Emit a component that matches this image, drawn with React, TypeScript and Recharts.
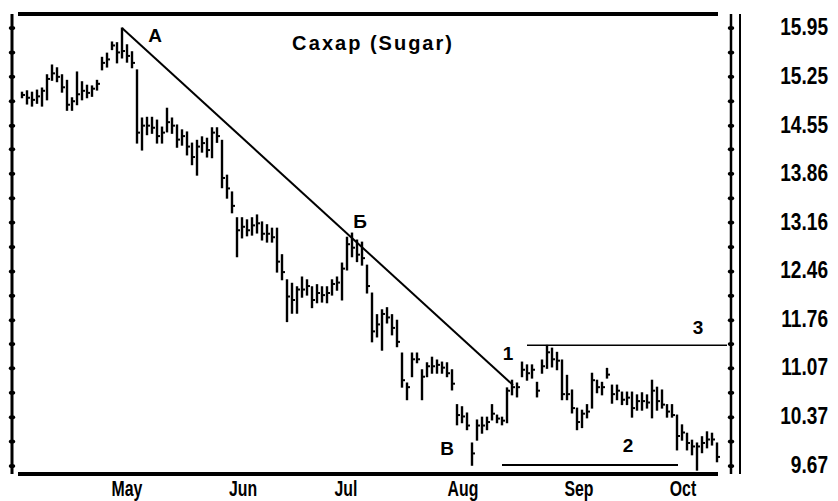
import React from 'react';
import { ComposedChart, Bar, XAxis, YAxis, ReferenceLine, ReferenceDot } from 'recharts';

// Daily bars (index 0 = early April), prices in US cents/lb
const highs = [
  15.03, 15.05, 15.03, 15.06, 15.09, 15.28, 15.42, 15.38, 15.28, 15.2,
  14.95, 15.32, 15.18, 15.13, 15.12, 15.2, 15.53, 15.59, 15.75, 15.74,
  15.95, 15.71, 15.61, 15.35, 14.66, 14.67, 14.67, 14.63, 14.53, 14.8,
  14.66, 14.56, 14.49, 14.46, 14.3, 14.34, 14.39, 14.37, 14.52, 14.52,
  14.34, 13.84, 13.6, 13.23, 13.23, 13.2, 13.23, 13.27, 13.17, 13.13,
  13.08, 13.08, 12.7, 12.34, 12.29, 12.24, 12.38, 12.34, 12.24, 12.27,
  12.24, 12.24, 12.34, 12.38, 12.58, 12.95, 13.01, 12.91, 12.88, 12.55,
  12.15, 11.84, 11.91, 11.94, 11.84, 11.76, 11.29, 10.86, 11.29, 11.29,
  11.05, 11.15, 11.23, 11.19, 11.16, 11.15, 11.05, 10.55, 10.52, 10.43,
  10.0, 10.33, 10.37, 10.37, 10.55, 10.4, 10.37, 10.79, 10.9, 10.86,
  11.16, 11.12, 11.12, 10.87, 11.19, 11.4, 11.36, 11.3, 11.19, 10.97,
  10.76, 10.5, 10.47, 10.55, 11.0, 10.9, 10.87, 11.07, 10.83, 10.83,
  10.73, 10.73, 10.73, 10.69, 10.72, 10.69, 10.9, 10.8, 10.76, 10.55,
  10.55, 10.4, 10.26, 10.14, 10.04, 10.0, 10.09, 10.16, 10.14, 10.0,
];
const lows = [
  14.95, 14.86, 14.83, 14.87, 14.83, 14.92, 15.2, 15.18, 15.03, 14.77,
  14.77, 14.85, 14.92, 14.95, 14.97, 15.06, 15.35, 15.39, 15.64, 15.45,
  15.52, 15.46, 15.38, 14.3, 14.2, 14.42, 14.44, 14.3, 14.3, 14.46,
  14.44, 14.24, 14.27, 14.13, 13.99, 13.84, 14.17, 14.1, 14.09, 14.31,
  13.66, 13.51, 13.3, 12.67, 12.94, 12.97, 12.98, 13.01, 12.91, 12.88,
  12.88, 12.45, 12.34, 11.74, 11.86, 11.86, 12.09, 12.12, 11.94, 12.01,
  12.02, 12.01, 12.12, 12.19, 12.05, 12.48, 12.67, 12.6, 12.55, 12.15,
  11.45, 11.52, 11.33, 11.72, 11.55, 11.38, 10.8, 10.62, 10.95, 11.15,
  10.62, 10.95, 11.0, 11.0, 11.0, 10.95, 10.76, 10.26, 10.29, 10.19,
  9.68, 10.04, 10.14, 10.19, 10.33, 10.29, 10.26, 10.29, 10.69, 10.66,
  10.95, 10.9, 10.93, 10.66, 11.0, 11.07, 11.09, 11.05, 10.62, 10.62,
  10.43, 10.19, 10.22, 10.36, 10.5, 10.72, 10.69, 10.93, 10.57, 10.62,
  10.55, 10.55, 10.37, 10.47, 10.47, 10.5, 10.36, 10.47, 10.5, 10.37,
  10.37, 9.9, 10.04, 9.9, 9.83, 9.61, 9.86, 9.93, 9.97, 9.73,
];
const closes = [
  14.99, 14.95, 14.92, 14.97, 15.05, 15.22, 15.3, 15.25, 15.1, 14.85,
  14.9, 15.0, 15.05, 15.02, 15.08, 15.15, 15.45, 15.5, 15.7, 15.6,
  15.62, 15.55, 15.45, 14.45, 14.55, 14.55, 14.52, 14.4, 14.45, 14.6,
  14.55, 14.35, 14.4, 14.25, 14.1, 14.25, 14.3, 14.2, 14.45, 14.4,
  13.8, 13.65, 13.4, 13.05, 13.1, 13.05, 13.12, 13.15, 13.0, 13.0,
  12.95, 12.6, 12.45, 12.1, 12.05, 12.2, 12.2, 12.25, 12.05, 12.15,
  12.12, 12.15, 12.28, 12.3, 12.5, 12.85, 12.8, 12.7, 12.65, 12.25,
  11.6, 11.7, 11.85, 11.8, 11.65, 11.45, 10.9, 10.8, 11.2, 11.2,
  10.95, 11.1, 11.1, 11.12, 11.08, 11.0, 10.85, 10.4, 10.38, 10.25,
  9.85, 10.25, 10.25, 10.3, 10.42, 10.35, 10.32, 10.75, 10.8, 10.8,
  11.05, 11.0, 11.05, 10.75, 11.1, 11.3, 11.2, 11.18, 10.7, 10.7,
  10.5, 10.3, 10.42, 10.45, 10.9, 10.8, 10.8, 10.98, 10.7, 10.75,
  10.62, 10.65, 10.5, 10.6, 10.6, 10.58, 10.75, 10.6, 10.55, 10.45,
  10.4, 10.1, 10.15, 10.0, 9.95, 9.95, 10.0, 10.05, 10.05, 9.8,
];

const monthTicks = [21, 44.2, 64.8, 88.2, 111.4, 132.2];
const monthLabels = ['May', 'Jun', 'Jul', 'Aug', 'Sep', 'Oct'];
const priceLabels = [15.95, 15.25, 14.55, 13.86, 13.16, 12.46, 11.76, 11.07, 10.37, 9.67];
const minorTicks = [
  15.95, 15.6, 15.25, 14.9, 14.55, 14.21, 13.86, 13.51, 13.16, 12.81,
  12.46, 12.11, 11.76, 11.42, 11.07, 10.72, 10.37, 10.02, 9.67,
];
const priceLabelText = ['15.95', '15.25', '14.55', '13.86', '13.16', '12.46', '11.76', '11.07', '10.37', '9.67'];

// Annotations (index, price)
const trendLine = [{ x: 20, y: 15.95 }, { x: 98.2, y: 10.83 }];
const resistanceLine = [{ x: 101, y: 11.4 }, { x: 141, y: 11.4 }];
const supportLine = [{ x: 96, y: 9.685 }, { x: 131.2, y: 9.685 }];
const notes = [
  { x: 26.6, y: 15.85, t: 'А' },
  { x: 67.6, y: 13.18, t: 'Б' },
  { x: 85, y: 9.93, t: 'В' },
  { x: 97.2, y: 11.29, t: '1' },
  { x: 121.2, y: 9.97, t: '2' },
  { x: 135.2, y: 11.66, t: '3' },
];
const title = { x: 70.2, y: 15.73, t: 'Сахар (Sugar)' };

const Y_MIN = 9.555;
const Y_MAX = 16.151;
const X_MIN = -2;
const X_MAX = 141.8;

const data = highs.map((h, i) => ({ i, range: [lows[i], h], close: closes[i] }));

const SANS = "'Liberation Sans', Arial, sans-serif";

const BarShape = (props: any) => {
  const { x, y, width, height, payload } = props;
  if (x == null || y == null || !payload) return null;
  const cx = x + width / 2;
  const top = Math.min(y, y + height);
  const h = Math.abs(height);
  const [lo, hi] = payload.range;
  const cy = hi > lo ? top + ((hi - payload.close) / (hi - lo)) * h : top;
  return (
    <g>
      <line x1={cx} x2={cx} y1={top - 0.5} y2={top + h + 0.5} stroke="#000" strokeWidth={2.4} />
      <line x1={cx} x2={cx + 3} y1={cy} y2={cy} stroke="#000" strokeWidth={2} />
    </g>
  );
};

const DotTick = (props: any) => {
  const { x, y } = props;
  return <ellipse cx={x} cy={y} rx={3.2} ry={2} fill="#000" />;
};

const PriceTick = (props: any) => {
  const { x, y, payload } = props;
  const idx = priceLabels.indexOf(payload.value);
  return (
    <g transform={`translate(${x + 88}, ${y}) scale(0.83, 1)`}>
      <text x={0} y={0} dy={7} textAnchor="end" fontFamily={SANS} fontWeight="bold" fontSize={23} fill="#000">
        {idx >= 0 ? priceLabelText[idx] : ''}
      </text>
    </g>
  );
};

const MonthTick = (props: any) => {
  const { x, y, payload } = props;
  const idx = monthTicks.indexOf(payload.value);
  return (
    <g transform={`translate(${x}, ${y}) scale(0.72, 1)`}>
      <text x={0} y={0} dy={22} textAnchor="middle" fontFamily={SANS} fontWeight="bold" fontSize={22} fill="#000">
        {idx >= 0 ? monthLabels[idx] : ''}
      </text>
    </g>
  );
};

export default function App() {
  return (
    <div style={{ position: 'absolute', left: 0, top: 0, width: 838, height: 501, background: '#fff' }}>
      <ComposedChart width={838} height={501} data={data} margin={{ top: 14, right: 0, bottom: 0, left: 8 }}>
        <XAxis
          dataKey="i"
          type="number"
          domain={[X_MIN, X_MAX]}
          allowDataOverflow
          ticks={monthTicks}
          interval={0}
          axisLine={false}
          tickLine={false}
          tickSize={0}
          tickMargin={0}
          height={27}
          tick={<MonthTick />}
        />
        <YAxis
          yAxisId="L"
          orientation="left"
          width={4}
          domain={[Y_MIN, Y_MAX]}
          allowDataOverflow
          ticks={minorTicks}
          interval={0}
          axisLine={{ stroke: '#000', strokeWidth: 3 }}
          tickLine={false}
          tickSize={0}
          tickMargin={0}
          tick={<DotTick />}
        />
        <YAxis
          yAxisId="R1"
          orientation="right"
          width={9}
          domain={[Y_MIN, Y_MAX]}
          allowDataOverflow
          ticks={minorTicks}
          interval={0}
          axisLine={{ stroke: '#000', strokeWidth: 2.5 }}
          tickLine={false}
          tickSize={0}
          tickMargin={0}
          tick={<DotTick />}
        />
        <YAxis
          yAxisId="R2"
          orientation="right"
          width={98}
          domain={[Y_MIN, Y_MAX]}
          allowDataOverflow
          ticks={priceLabels}
          interval={0}
          axisLine={{ stroke: '#000', strokeWidth: 2 }}
          tickLine={false}
          tickSize={0}
          tickMargin={0}
          tick={<PriceTick />}
        />
        <ReferenceLine yAxisId="L" segment={[{ x: -0.8, y: Y_MAX }, { x: 139.2, y: Y_MAX }]} stroke="#000" strokeWidth={4} ifOverflow="visible" />
        <ReferenceLine yAxisId="L" segment={[{ x: -0.8, y: Y_MIN }, { x: 139.2, y: Y_MIN }]} stroke="#000" strokeWidth={4} ifOverflow="visible" />
        <ReferenceLine yAxisId="L" segment={trendLine} stroke="#000" strokeWidth={2} ifOverflow="visible" />
        <ReferenceLine yAxisId="L" segment={resistanceLine} stroke="#000" strokeWidth={1.5} ifOverflow="visible" />
        <ReferenceLine yAxisId="L" segment={supportLine} stroke="#000" strokeWidth={2} ifOverflow="visible" />
        <Bar yAxisId="L" dataKey="range" isAnimationActive={false} shape={<BarShape />} />
        {notes.map((n) => (
          <ReferenceDot
            key={n.t}
            yAxisId="L"
            x={n.x}
            y={n.y}
            r={0}
            fill="none"
            stroke="none"
            ifOverflow="visible"
            label={{ value: n.t, position: 'center', fontSize: 19, fontWeight: 'bold', fill: '#000', fontFamily: SANS }}
          />
        ))}
        <ReferenceDot
          yAxisId="L"
          x={title.x}
          y={title.y}
          r={0}
          fill="none"
          stroke="none"
          ifOverflow="visible"
          label={{ value: title.t, position: 'center', fontSize: 20, fontWeight: 'bold', fill: '#000', fontFamily: SANS, letterSpacing: 2 }}
        />
      </ComposedChart>
    </div>
  );
}
